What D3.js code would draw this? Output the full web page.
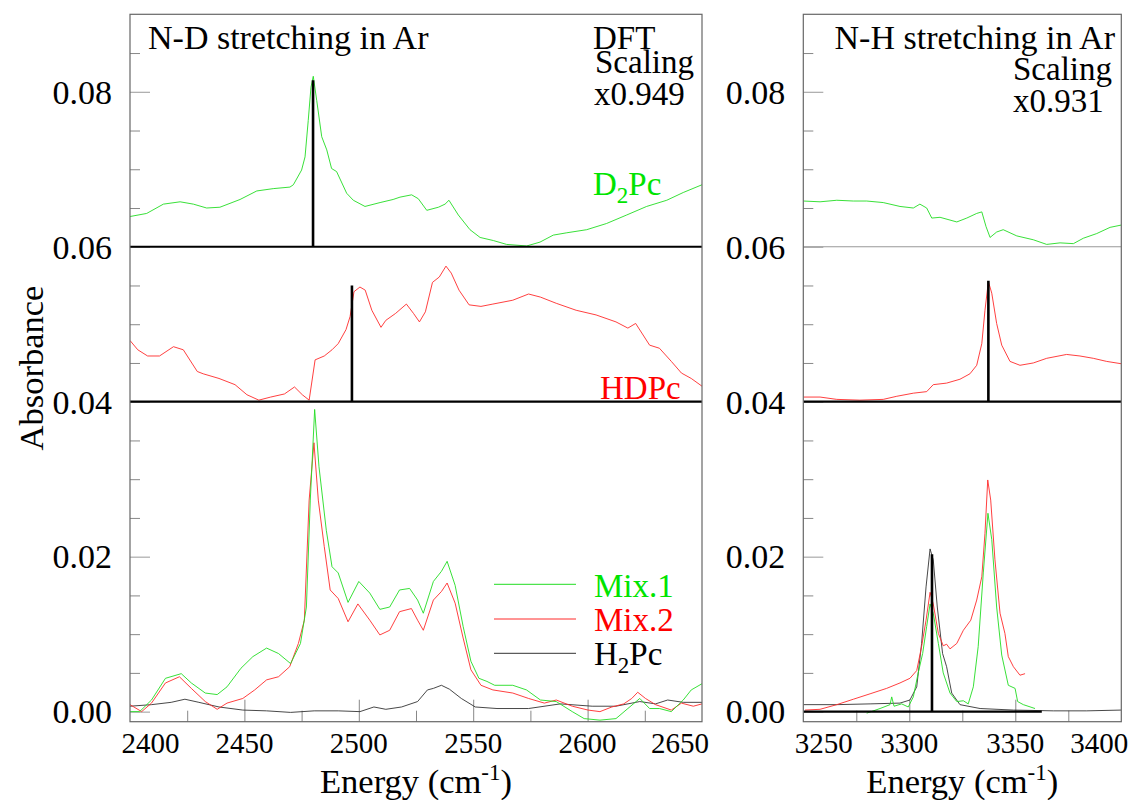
<!DOCTYPE html>
<html>
<head>
<meta charset="utf-8">
<script src="https://cdn.jsdelivr.net/npm/d3@7/dist/d3.min.js"></script>
<style>
  html, body { margin: 0; padding: 0; background: #fff; }
  svg { display: block; }
</style>
</head>
<body>
<svg id="chart" width="1131" height="800" font-family="'Liberation Serif', 'Times New Roman', Times, serif"></svg>
<script>
// ---- axis ticks ----
const ndTicks = [2400, 2450, 2500, 2550, 2600, 2650];
const nhTicks = [3250, 3300, 3350, 3400];
const yTicks = [0.00, 0.02, 0.04, 0.06, 0.08];

// ---- N-D stretching spectra (energy cm-1, absorbance) ----
const d2pcND = [[2400,0.0639],[2407.3,0.0643],[2414.6,0.0655],[2421.9,0.0658],[2427.7,0.0655],[2433.5,0.0650],[2439.3,0.0651],[2448.1,0.0661],[2455.4,0.0672],[2462.6,0.0675],[2469.9,0.0677],[2471.4,0.0680],[2475,0.0699],[2476.5,0.0716],[2477.9,0.0763],[2479.1,0.0806],[2480.1,0.0820],[2481.6,0.0789],[2483.8,0.0742],[2486,0.0725],[2488.1,0.0701],[2490.3,0.0697],[2494.7,0.0669],[2497.6,0.0660],[2502.7,0.0652],[2509.3,0.0657],[2515,0.0661],[2518,0.0664],[2523.1,0.0667],[2526,0.0662],[2529.7,0.0647],[2534.8,0.0651],[2537.7,0.0655],[2539.4,0.0660],[2543.5,0.0641],[2548.6,0.0622],[2553,0.0612],[2558.8,0.0608],[2564.6,0.0603],[2573.4,0.0601],[2579.2,0.0606],[2585,0.0615],[2590.9,0.0618],[2599.6,0.0622],[2608.3,0.0630],[2617.1,0.0641],[2625.8,0.0652],[2634.6,0.0660],[2641.8,0.0670],[2650,0.0680]];

const hdpcND = [[2400,0.0479],[2403.4,0.0467],[2407.7,0.0459],[2412.9,0.0459],[2419,0.0471],[2423.3,0.0467],[2429.4,0.0439],[2432,0.0436],[2438.9,0.0430],[2445.9,0.0422],[2451.1,0.0409],[2456.3,0.0402],[2461.5,0.0406],[2467.5,0.0410],[2471.9,0.0419],[2475.3,0.0409],[2478.3,0.0402],[2480.9,0.0454],[2484.9,0.0459],[2488.3,0.0467],[2491,0.0475],[2494.4,0.0493],[2496.2,0.0510],[2497.9,0.0542],[2500.5,0.0548],[2502.8,0.0544],[2505.7,0.0518],[2509.7,0.0496],[2511.8,0.0505],[2516.1,0.0514],[2520.8,0.0526],[2523.9,0.0514],[2526.5,0.0503],[2529.1,0.0516],[2532.2,0.0554],[2535.2,0.0561],[2538.1,0.0575],[2540.4,0.0566],[2543.8,0.0544],[2548.2,0.0525],[2553.4,0.0523],[2558.6,0.0526],[2567.3,0.0531],[2574.2,0.0539],[2579.4,0.0535],[2586.3,0.0527],[2595,0.0518],[2603.7,0.0512],[2612.4,0.0503],[2617.6,0.0495],[2621,0.0501],[2627.1,0.0473],[2631.4,0.0469],[2636.6,0.0452],[2641,0.0437],[2645.3,0.0430],[2650,0.0420]];

const mix1ND = [[2400,0.0000],[2404.2,0.0000],[2409.4,0.0015],[2415.5,0.0043],[2422.4,0.0049],[2426.8,0.0037],[2432.9,0.0024],[2438.1,0.0022],[2442.4,0.0032],[2448.5,0.0056],[2453.7,0.0071],[2459.7,0.0082],[2464.9,0.0075],[2470.2,0.0062],[2474.5,0.0088],[2477.1,0.0135],[2478.8,0.0273],[2480.7,0.0390],[2482.6,0.0316],[2485.8,0.0234],[2488.3,0.0187],[2491,0.0179],[2495.3,0.0141],[2500,0.0168],[2504.8,0.0153],[2509.2,0.0132],[2513.5,0.0135],[2517.8,0.0157],[2522.2,0.0159],[2525.7,0.0144],[2528.2,0.0127],[2532.6,0.0168],[2536.1,0.0181],[2538.6,0.0194],[2542.1,0.0163],[2545.6,0.0110],[2549,0.0065],[2552.5,0.0043],[2556,0.0039],[2559.4,0.0034],[2567.3,0.0034],[2573.3,0.0028],[2579.4,0.0015],[2586.3,0.0013],[2593.3,0.0000],[2598.5,-0.0009],[2605.4,-0.0011],[2612.4,-0.0009],[2617.6,0.0004],[2622.8,0.0017],[2627.1,0.0004],[2631.4,0.0004],[2636.6,0.0000],[2641.8,0.0015],[2645.3,0.0028],[2650,0.0036]];

const mix2ND = [[2400,0.0009],[2405.1,0.0000],[2409.4,0.0011],[2415.5,0.0037],[2421.6,0.0045],[2426.8,0.0030],[2432.9,0.0013],[2438.1,0.0003],[2442.4,0.0011],[2449.3,0.0017],[2454.5,0.0028],[2459.7,0.0041],[2464.9,0.0045],[2469.8,0.0058],[2473.6,0.0088],[2476.2,0.0118],[2478.3,0.0273],[2480.4,0.0347],[2482.3,0.0273],[2484.9,0.0213],[2487.5,0.0157],[2491,0.0146],[2495.3,0.0116],[2499.6,0.0139],[2504.8,0.0118],[2509.2,0.0099],[2513.5,0.0105],[2517.8,0.0129],[2523,0.0133],[2525.7,0.0118],[2528.2,0.0105],[2532.6,0.0144],[2536.1,0.0155],[2538.6,0.0166],[2542.1,0.0140],[2545.6,0.0095],[2549,0.0054],[2553.4,0.0034],[2558.6,0.0028],[2567.3,0.0024],[2574.2,0.0017],[2581.1,0.0011],[2586.3,0.0015],[2593.3,0.0007],[2600.2,0.0002],[2605.4,0.0000],[2610.6,0.0006],[2615.8,0.0010],[2619.3,0.0017],[2621.9,0.0025],[2625.3,0.0017],[2629.7,0.0009],[2636.6,0.0002],[2641,0.0011],[2646.2,0.0007],[2650,0.0010]];

const h2pcND = [[2400,0.0007],[2409.4,0.0009],[2418,0.0012],[2424,0.0016],[2430.1,0.0012],[2438.9,0.0006],[2449.3,0.0002],[2459.7,0.0001],[2470.2,-0.0001],[2480.5,0.0001],[2491,0.0001],[2500.5,0.0000],[2506.6,0.0006],[2511.8,0.0003],[2518.7,0.0006],[2525.7,0.0013],[2530,0.0028],[2532.6,0.0030],[2536.1,0.0034],[2539.6,0.0029],[2544.8,0.0017],[2550.9,0.0006],[2560.4,0.0004],[2574.2,0.0004],[2588.1,0.0010],[2602,0.0007],[2612.4,0.0007],[2622.8,0.0013],[2629.7,0.0010],[2635,0.0015],[2641.8,0.0012],[2650,0.0012]];

// ---- N-H stretching spectra ----
const d2pcNH = [[3250,0.0659],[3257.9,0.0658],[3265.8,0.0660],[3273.6,0.0659],[3279.9,0.0659],[3287.7,0.0657],[3295.6,0.0652],[3301.9,0.0650],[3305,0.0655],[3308.2,0.0650],[3310.6,0.0637],[3314.5,0.0638],[3322.4,0.0632],[3327.1,0.0637],[3331.8,0.0643],[3334.2,0.0645],[3336.2,0.0626],[3338.1,0.0612],[3341.2,0.0619],[3344.3,0.0622],[3350.7,0.0614],[3358.5,0.0609],[3364.8,0.0603],[3371.1,0.0605],[3377.4,0.0604],[3382.1,0.0611],[3388.4,0.0617],[3394.7,0.0625],[3400,0.0628]];

const hdpcNH = [[3250,0.0406],[3257.9,0.0406],[3265.8,0.0403],[3276.7,0.0402],[3287.7,0.0403],[3294.1,0.0407],[3301.9,0.0411],[3308.2,0.0413],[3311.3,0.0422],[3317.6,0.0424],[3323.9,0.0429],[3328.6,0.0436],[3331.8,0.0447],[3334.2,0.0475],[3335.7,0.0518],[3337.3,0.0555],[3338.9,0.0540],[3341.2,0.0501],[3343.6,0.0473],[3347.5,0.0452],[3352.2,0.0447],[3358.5,0.0450],[3364.8,0.0456],[3374.2,0.0461],[3380.5,0.0459],[3386.8,0.0456],[3393.1,0.0452],[3400,0.0449]];

const mix2NH = [[3250.8,0.0002],[3257.9,0.0003],[3265.8,0.0009],[3273.6,0.0016],[3281.5,0.0023],[3289.3,0.0030],[3295.6,0.0037],[3300.3,0.0043],[3303.5,0.0053],[3305.8,0.0084],[3307.9,0.0118],[3309.8,0.0154],[3311.3,0.0139],[3313.7,0.0101],[3316,0.0085],[3317.6,0.0087],[3319.2,0.0081],[3322.4,0.0088],[3325.5,0.0105],[3329,0.0118],[3331.8,0.0144],[3334.2,0.0174],[3335.7,0.0230],[3337,0.0299],[3338.4,0.0273],[3340.4,0.0196],[3342.8,0.0127],[3345.1,0.0101],[3346.7,0.0071],[3349.1,0.0058],[3352.2,0.0047],[3354.6,0.0049]];

const mix1NH = [[3279.9,-0.0002],[3286.2,0.0004],[3290.9,0.0009],[3291.7,0.0019],[3292.8,0.0007],[3296.4,0.0010],[3299.5,0.0006],[3301.9,0.0019],[3304.2,0.0050],[3306.3,0.0075],[3308.2,0.0110],[3309.8,0.0139],[3311.3,0.0127],[3313.7,0.0088],[3316,0.0050],[3319.2,0.0024],[3322.4,0.0013],[3325.5,0.0014],[3327.8,0.0010],[3330.2,0.0032],[3332.5,0.0084],[3334.9,0.0179],[3337.1,0.0256],[3338.9,0.0222],[3341.2,0.0135],[3343.6,0.0073],[3346.7,0.0034],[3349.9,0.0030],[3351.1,0.0013],[3353.8,0.0009],[3359.3,0.0004]];

const h2pcNH = [[3250,0.0009],[3265.8,0.0009],[3281.5,0.0010],[3295.6,0.0011],[3300.3,0.0015],[3303.5,0.0032],[3305.8,0.0088],[3307.9,0.0161],[3309.8,0.0210],[3311.3,0.0196],[3313.2,0.0135],[3315.7,0.0075],[3317.6,0.0058],[3320,0.0024],[3323.9,0.0009],[3333.4,0.0004],[3349.1,0.0002],[3367.9,0.0001],[3383.7,0.0001],[3400,0.0002]];

// ---- DFT stick spectra and their baselines ----
const dftND = [{ x: 2480, base: 0.06, top: 0.0815 }, { x: 2497, base: 0.04, top: 0.0550 }];
const dftNH = [{ x: 3337.3, base: 0.04, top: 0.0556 }, { x: 3310.7, base: 0.00, top: 0.0203 }];
const baseND = [{ y: 0.06, from: 2400, to: 2650 }, { y: 0.04, from: 2400, to: 2650 }];
const baseNH = [{ y: 0.04, from: 3250, to: 3400 }, { y: 0.00, from: 3250, to: 3362.5 }];

const GREEN = "#00e400", RED = "#ff0000";
const LGREEN = "#22dd22", LRED = "#ff2a2a", LDARK = "#333333";
const SERIF = "'Liberation Serif', 'Times New Roman', Times, serif";

const svg = d3.select("#chart");
const plotTop = 14.3, plotBottom = 721.7;
const y = d3.scaleLinear().domain([-0.0013, 0.09]).range([plotBottom, plotTop]);

function panel(id, x0, x1, domain, ticks, minorStep) {
  const x = d3.scaleLinear().domain(domain).range([x0, x1]);
  const g = svg.append("g").attr("id", id);
  g.append("clipPath").attr("id", id + "-clip")
    .append("rect").attr("x", x0).attr("y", plotTop).attr("width", x1 - x0).attr("height", plotBottom - plotTop);

  // y ticks inside the left frame edge
  const minorY = d3.range(0, 0.0851, 0.005).filter(v => Math.abs(v / 0.02 - Math.round(v / 0.02)) > 1e-6);
  g.append("g").attr("transform", `translate(${x0},0)`)
    .call(d3.axisLeft(y).tickValues(minorY).tickSize(-10).tickFormat(""))
    .call(a => a.select(".domain").remove())
    .call(a => a.selectAll("line").attr("stroke", "#888"));
  g.append("g").attr("transform", `translate(${x0},0)`)
    .call(d3.axisLeft(y).tickValues(yTicks).tickSize(-20).tickFormat(""))
    .call(a => a.select(".domain").remove())
    .call(a => a.selectAll("line").attr("stroke", "#999"));

  // x ticks inside the bottom frame edge
  const minorX = d3.range(domain[0] + minorStep, domain[1], minorStep * 2);
  g.append("g").attr("transform", `translate(0,${plotBottom})`)
    .call(d3.axisBottom(x).tickValues(minorX).tickSize(-11).tickFormat(""))
    .call(a => a.select(".domain").remove())
    .call(a => a.selectAll("line").attr("stroke", "#888"));
  g.append("g").attr("transform", `translate(0,${plotBottom})`)
    .call(d3.axisBottom(x).tickValues(ticks.slice(1, -1)).tickSize(-22).tickFormat(""))
    .call(a => a.select(".domain").remove())
    .call(a => a.selectAll("line").attr("stroke", "#888"));

  // y tick labels
  g.selectAll(".ylab").data(yTicks).join("text")
    .attr("font-family", SERIF)
    .attr("x", x0 - 18).attr("y", d => y(d) + 11.8)
    .attr("text-anchor", "end").attr("font-size", 34).text(d => d.toFixed(2));

  // x tick labels, end labels pulled inside
  g.selectAll(".xlab").data(ticks).join("text")
    .attr("font-family", SERIF)
    .attr("x", (d, i) => x(d) + (i === 0 ? 20.5 : i === ticks.length - 1 ? -22 : 0))
    .attr("y", 753).attr("text-anchor", "middle").attr("font-size", 29).text(d => d);

  // x axis title
  const t = g.append("text").attr("font-family", SERIF).attr("x", (x0 + x1) / 2).attr("y", 793)
    .attr("text-anchor", "middle").attr("font-size", 34.5);
  t.append("tspan").text("Energy (cm");
  t.append("tspan").attr("font-size", 23).attr("dy", -13).text("-1");
  t.append("tspan").attr("dy", 13).text(")");

  const plot = g.append("g").attr("clip-path", `url(#${id}-clip)`);
  return { x, g, plot };
}

const nd = panel("nd", 130, 702, [2400, 2650], ndTicks, 25);
const nh = panel("nh", 803.3, 1121.3, [3250, 3400], nhTicks, 25);

function trace(p, data, color, w) {
  p.plot.append("path").datum(data)
    .attr("fill", "none").attr("stroke", color).attr("stroke-width", w)
    .attr("stroke-linejoin", "round")
    .attr("d", d3.line().x(d => p.x(d[0])).y(d => y(d[1])));
}

// separator in the N-H panel between top and middle traces
nh.plot.append("line").attr("x1", nh.x(3250)).attr("x2", nh.x(3400))
  .attr("y1", y(0.06)).attr("y2", y(0.06)).attr("stroke", "#999").attr("stroke-width", 1.2);

// spectra
trace(nd, h2pcND, LDARK, 0.9);
trace(nd, mix2ND, LRED, 0.9);
trace(nd, mix1ND, LGREEN, 0.9);
trace(nd, hdpcND, LRED, 0.9);
trace(nd, d2pcND, LGREEN, 0.9);

trace(nh, h2pcNH, LDARK, 0.9);
trace(nh, mix2NH, LRED, 0.9);
trace(nh, mix1NH, LGREEN, 0.9);
trace(nh, hdpcNH, LRED, 0.9);
trace(nh, d2pcNH, LGREEN, 0.9);

// DFT baselines and sticks
function sticks(p, bases, lines) {
  p.plot.selectAll(".base").data(bases).join("line")
    .attr("x1", d => p.x(d.from)).attr("x2", d => p.x(d.to))
    .attr("y1", d => y(d.y)).attr("y2", d => y(d.y))
    .attr("stroke", "#000").attr("stroke-width", 2.2);
  p.plot.selectAll(".stick").data(lines).join("line")
    .attr("x1", d => p.x(d.x)).attr("x2", d => p.x(d.x))
    .attr("y1", d => y(d.base)).attr("y2", d => y(d.top))
    .attr("stroke", "#000").attr("stroke-width", 2.6);
}
sticks(nd, baseND, dftND);
sticks(nh, baseNH, dftNH);

// frames
[[130, 702], [803.3, 1121.3]].forEach(([a, b]) => {
  svg.append("rect").attr("x", a).attr("y", plotTop).attr("width", b - a).attr("height", plotBottom - plotTop)
    .attr("fill", "none").attr("stroke", "#666").attr("stroke-width", 1.2);
});

// annotation blocks: one text element, one tspan per line
function block(lines, fill, size) {
  const t = svg.append("text").attr("font-family", SERIF).attr("font-size", size || 33).attr("fill", fill || "#000");
  lines.forEach(l => t.append("tspan").attr("x", l.x).attr("y", l.y)
    .attr("text-anchor", l.anchor || "start").text(l.text));
  return t;
}
block([
  { x: 148, y: 49, text: "N-D stretching in Ar" }
], "#000", 34);
block([
  { x: 593, y: 49, text: "DFT" },
  { x: 595, y: 73, text: "Scaling" },
  { x: 594, y: 105, text: "x0.949" }
]);
block([{ x: 1115, y: 49, text: "N-H stretching in Ar", anchor: "end" }], "#000", 34);
block([
  { x: 1112, y: 80, text: "Scaling", anchor: "end" },
  { x: 1013, y: 112, text: "x0.931" }
]);

function subLabel(x, yy, a, sub, b, fill) {
  const t = svg.append("text").attr("font-family", SERIF).attr("x", x).attr("y", yy)
    .attr("font-size", 33).attr("fill", fill);
  t.append("tspan").text(a);
  t.append("tspan").attr("font-size", 23).attr("dy", 8).text(sub);
  t.append("tspan").attr("dy", -8).text(b);
}
subLabel(593, 195, "D", "2", "Pc", GREEN);
block([{ x: 600, y: 399, text: "HDPc" }], RED);

// legend
const legend = [
  { name: "Mix.1", color: LGREEN, text: GREEN, ly: 584.3, ty: 597 },
  { name: "Mix.2", color: LRED, text: RED, ly: 619, ty: 631 },
  { name: "H2Pc", color: LDARK, text: "#000", ly: 653.3, ty: 665 }
];
legend.forEach(d => {
  svg.append("line").attr("x1", 494).attr("x2", 576).attr("y1", d.ly).attr("y2", d.ly)
    .attr("stroke", d.color).attr("stroke-width", 1);
  if (d.name === "H2Pc") subLabel(594, d.ty, "H", "2", "Pc", d.text);
  else block([{ x: 594, y: d.ty, text: d.name }], d.text);
});

// y axis title
svg.append("text").attr("font-family", SERIF).attr("transform", "translate(43,368) rotate(-90)")
  .attr("text-anchor", "middle").attr("font-size", 34.5).text("Absorbance");
</script>
</body>
</html>
